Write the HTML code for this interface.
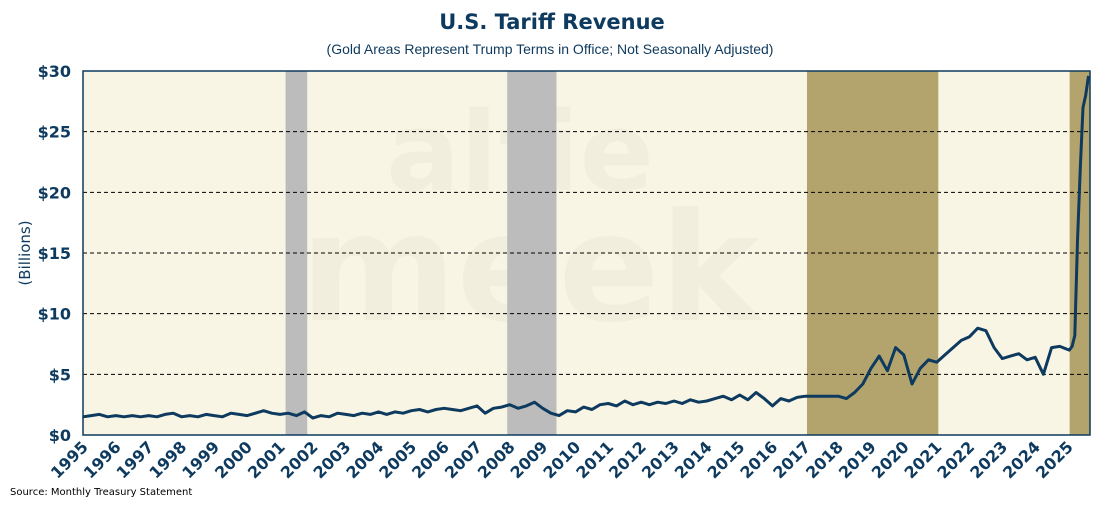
<!DOCTYPE html>
<html><head><meta charset="utf-8"><style>
body{margin:0;background:#fff;font-family:"Liberation Sans","DejaVu Sans",sans-serif}
</style></head><body>
<svg id="chart" width="1100" height="500" viewBox="0 0 1100 500" xmlns="http://www.w3.org/2000/svg"></svg>
<script>
const yTicks=[0,5,10,15,20,25,30];
const yTickLabels=["$0","$5","$10","$15","$20","$25","$30"];
const years=[];for(let y=1995;y<=2025;y++)years.push(y);
const trumpTerms=[[2017.05,2021.05],[2025.05,2025.67]];
const recessions=[[2001.17,2001.83],[2007.92,2009.42]];
const dates=[];const values=[];
const quarterly=[
1.5,1.6,1.7,1.5, 1.6,1.5,1.6,1.5, 1.6,1.5,1.7,1.8, 1.5,1.6,1.5,1.7, 1.6,1.5,1.8,1.7,
1.6,1.8,2.0,1.8, 1.7,1.8,1.6,1.9, 1.4,1.6,1.5,1.8, 1.7,1.6,1.8,1.7, 1.9,1.7,1.9,1.8,
2.0,2.1,1.9,2.1, 2.2,2.1,2.0,2.2, 2.4,1.8,2.2,2.3, 2.5,2.2,2.4,2.7, 2.2,1.8,1.6,2.0,
1.9,2.3,2.1,2.5, 2.6,2.4,2.8,2.5, 2.7,2.5,2.7,2.6, 2.8,2.6,2.9,2.7, 2.8,3.0,3.2,2.9,
3.3,2.9,3.5,3.0, 2.4,3.0,2.8,3.1, 3.2,3.2,3.2,3.2, 3.2,3.0,3.5,4.2, 5.5,6.5,5.3,7.2,
6.6,4.2,5.5,6.2, 6.0,6.6,7.2,7.8, 8.1,8.8,8.6,7.2, 6.3,6.5,6.7,6.2, 6.4,5.0,7.2,7.3];
const monthly2025=[7.0,7.3,8.2,16.0,22.0,27.0,28.0,29.6];
quarterly.forEach((v,i)=>{dates.push(1995+i*0.25);values.push(v);});
monthly2025.forEach((v,i)=>{dates.push(2025+i/12+0.04);values.push(v);});

const L=83,R=1090,T=71,B=435,x0=1995,x1=2025.67;
const sx=d=>L+(d-x0)/(x1-x0)*(R-L);
const sy=v=>B-v/30*(B-T);
const svg=document.getElementById('chart');const NS="http://www.w3.org/2000/svg";
const DV='"DejaVu Sans",sans-serif';
function mk(tag,attrs,parent){const e=document.createElementNS(NS,tag);for(const k in attrs)e.setAttribute(k,attrs[k]);(parent||svg).appendChild(e);return e;}

let t=mk('text',{x:552,y:29,'text-anchor':'middle','font-size':21,'font-weight':'bold',fill:'#0d3a5e','font-family':DV});t.textContent='U.S. Tariff Revenue';


t=mk('text',{x:550,y:54,'text-anchor':'middle','font-size':14,fill:'#0d3a5e'});t.textContent='(Gold Areas Represent Trump Terms in Office; Not Seasonally Adjusted)';



let bg=mk('rect',{x:L,y:T,width:R-L,height:B-T,fill:'#f8f5e4'});



let wm=mk('text',{x:520,y:190,'text-anchor':'middle','font-size':110,'font-weight':'bold',fill:'#000',opacity:0.025,'font-family':DV});wm.textContent='alfie';


wm=mk('text',{x:530,y:320,'text-anchor':'middle','font-size':150,'font-weight':'bold',fill:'#000',opacity:0.025,'font-family':DV});wm.textContent='meek';



trumpTerms.forEach(p=>{const r=mk('rect',{x:sx(p[0]),y:T,width:sx(p[1])-sx(p[0]),height:B-T,fill:'#b3a46e'});

});
recessions.forEach(p=>{const r=mk('rect',{x:sx(p[0]),y:T,width:sx(p[1])-sx(p[0]),height:B-T,fill:'#bcbcbc'});

});

yTicks.forEach((v,i)=>{
 if(v>0&&v<30){const g=mk('line',{x1:L,x2:R,y1:sy(v),y2:sy(v),stroke:'#000','stroke-width':1,'stroke-dasharray':'4,3'});
 
 }
 const l=mk('text',{x:L-12,y:sy(v)+6,'text-anchor':'end','font-size':16,'font-weight':'bold',fill:'#0d3a5e','font-family':DV});l.textContent=yTickLabels[i];
 
 
});
t=mk('text',{x:30,y:253,'text-anchor':'middle','font-size':15,fill:'#0d3a5e',transform:'rotate(-90 30 253)','font-family':DV});t.textContent='(Billions)';



years.forEach(y=>{const x=sx(y)+6,yy=448;
 const l=mk('text',{x:x,y:yy,'text-anchor':'end','font-size':16,'font-weight':'bold',fill:'#0d3a5e','font-family':DV,transform:`rotate(-45 ${x} ${yy})`});l.textContent=String(y);
 
 });

const d=dates.map((dt,i)=>(i?'L':'M')+sx(dt).toFixed(1)+','+sy(values[i]).toFixed(1)).join(' ');
const line=mk('path',{d:d,fill:'none',stroke:'#0d3a5e','stroke-width':3,'stroke-linejoin':'round'});



const fr=mk('rect',{x:L,y:T,width:R-L,height:B-T,fill:'none',stroke:'#0d3a5e','stroke-width':1.5});



t=mk('text',{x:10,y:495,'font-size':10,fill:'#000','font-family':DV});t.textContent='Source: Monthly Treasury Statement';


</script>
</body></html>
